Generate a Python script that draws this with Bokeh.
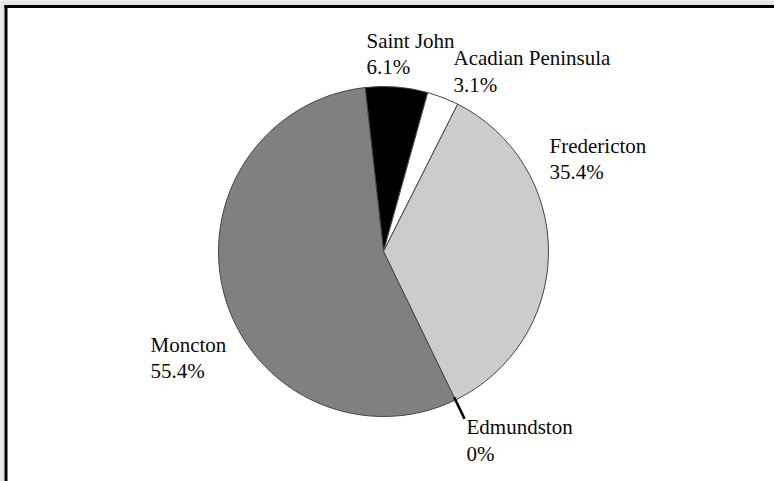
import math
from bokeh.plotting import figure
from bokeh.models import Range1d
from bokeh.core.properties import value
from bokeh.embed import file_html
from bokeh.resources import INLINE

# ---- data ----
regions = ["Saint John", "Acadian Peninsula", "Fredericton", "Edmundston", "Moncton"]
shares = [6.1, 3.1, 35.4, 0.0, 55.4]
pct_labels = ["6.1%", "3.1%", "35.4%", "0%", "55.4%"]
colors = ["#000000", "#ffffff", "#cccccc", "#000000", "#808080"]

# ---- layout ----
W, H = 774, 481
cx, cy, R = 383, -251, 165
start_clock = -6.4  # degrees clockwise from 12 o'clock
# label anchor (left x, baseline y in screen px) per region
label_pos = [(366, 40), (453, 57.5), (549, 145), (466, 426.5), (150, 344)]
line_gap = 26.5
FONT = value("serif")

p = figure(width=W, height=H, output_backend="svg", toolbar_location=None,
           x_range=Range1d(0, W), y_range=Range1d(-H, 0), min_border=0)
p.axis.visible = False
p.grid.visible = False
p.outline_line_color = None
p.background_fill_color = "#e4e4e4"
p.border_fill_color = "#e4e4e4"
p.styles = {"position": "absolute", "left": "0px", "top": "0px"}

# page frame (white panel with black top/left edges)
p.quad(left=[5.5], right=[W + 50], top=[-6], bottom=[-H - 50],
       fill_color="white", line_color=None)
p.segment(x0=[5.5, 4], y0=[-4.5, -6], x1=[5.5, W + 10], y1=[-H - 10, -6],
          line_color="black", line_width=3)

total = sum(shares)
acc = start_clock
starts, ends, cols = [], [], []
for s, c in zip(shares, colors):
    a0 = acc
    a1 = acc + s / total * 360.0
    acc = a1
    if s > 0:
        starts.append(math.radians(90 - a0))
        ends.append(math.radians(90 - a1))
        cols.append(c)

p.wedge(x=cx, y=cy, radius=R, start_angle=starts, end_angle=ends,
        direction="clock", fill_color=cols, line_color="#454545", line_width=1)

# leader for the zero slice
acc = start_clock
for s, name in zip(shares, regions):
    if s == 0:
        th = math.radians(acc)
        p.segment(x0=[cx + (R - 3) * math.sin(th)], y0=[cy + (R - 3) * math.cos(th)],
                  x1=[cx + (R + 21) * math.sin(th)], y1=[cy + (R + 21) * math.cos(th)],
                  line_color="black", line_width=2.5)
    acc += s / total * 360.0

for name, pct, (lx, ly) in zip(regions, pct_labels, label_pos):
    p.text(x=[lx], y=[-ly], text=[name], text_font=FONT,
           text_font_size="21px", text_color="#0a0a0a", text_baseline="alphabetic",
           text_align="left")
    p.text(x=[lx], y=[-(ly + line_gap)], text=[pct], text_font=FONT,
           text_font_size="21px", text_color="#0a0a0a", text_baseline="alphabetic",
           text_align="left")

open("out.html", "w").write(file_html(p, INLINE))
